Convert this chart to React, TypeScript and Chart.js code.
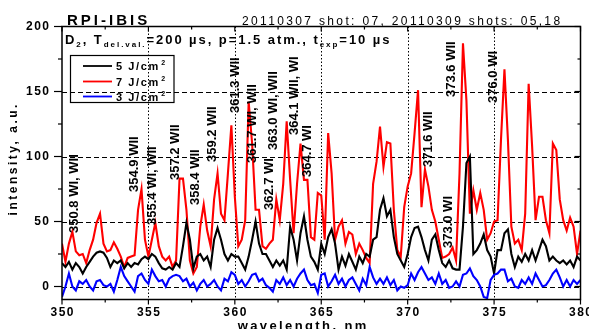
import React, { useEffect, useRef } from "react";
import { Chart, registerables } from "chart.js";

Chart.register(...registerables);

// ---------- data ----------
const X_MIN = 350;
const X_MAX = 380;
const Y_MIN = -10;
const Y_MAX = 200;

// wavelength grid (nm), 0.2 nm step
const wavelengths: number[] = Array.from({ length: 151 }, (_, i) => +(350 + 0.2 * i).toFixed(1));

// 5 J/cm2 (black)
const series5 = [
  18, 15, 19, 13, 18, 15, 10, 15, 19, 23,
  26, 27, 26, 22, 15, 20, 18, 20, 14, 18,
  15, 18, 17, 21, 23, 21, 25, 23, 18, 14,
  13, 15, 13, 18, 15, 31, 49, 36, 14, 23,
  25, 20, 23, 15, 36, 45, 36, 25, 20, 25,
  23, 23, 18, 13, 23, 36, 50, 33, 25, 25,
  20, 15, 20, 16, 20, 13, 46, 36, 20, 41,
  54, 36, 23, 19, 13, 33, 25, 38, 44, 33,
  13, 23, 16, 25, 19, 13, 23, 18, 25, 23,
  36, 38, 59, 68, 54, 59, 38, 25, 20, 15,
  25, 38, 45, 46, 38, 28, 20, 36, 40, 28,
  18, 15, 20, 14, 13, 13, 46, 95, 100, 25,
  28, 33, 40, 28, 23, 10, 28, 28, 41, 44,
  25, 15, 23, 19, 25, 20, 28, 20, 28, 36,
  31, 20, 23, 20, 18, 20, 17, 20, 15, 23,
  20,
];

// 7 J/cm2 (red)
const series7 = [
  33, 19, 33, 42, 27, 24, 25, 18, 28, 36,
  49, 56, 33, 27, 28, 34, 29, 23, 15, 22,
  23, 24, 59, 75, 36, 23, 36, 49, 31, 23,
  20, 23, 15, 20, 83, 83, 59, 20, 10, 15,
  46, 63, 43, 31, 67, 87, 56, 51, 87, 124,
  69, 31, 36, 51, 142, 110, 59, 59, 31, 29,
  33, 36, 67, 51, 79, 127, 82, 41, 79, 110,
  82, 82, 38, 36, 72, 70, 36, 118, 87, 36,
  46, 51, 33, 42, 40, 25, 33, 28, 22, 18,
  79, 96, 123, 92, 111, 110, 59, 28, 23, 61,
  77, 87, 118, 151, 61, 90, 77, 59, 50, 36,
  22, 23, 25, 30, 20, 87, 187, 143, 56, 74,
  59, 72, 59, 36, 41, 50, 51, 113, 167, 113,
  46, 33, 36, 28, 56, 156, 108, 51, 69, 69,
  51, 41, 110, 105, 67, 51, 43, 53, 46, 25,
  43,
];

// 3 J/cm2 (blue)
const series3 = [
  -8, 0, 10, 0, -3, 4, 2, 5, 0, -3,
  4, 5, 1, 0, 2, -4, 5, 15, 8, 4,
  0, -4, 8, 10, 5, 2, 13, 8, 4, 5,
  0, 6, 8, 9, 8, 4, 6, 0, 3, -3,
  2, 5, 0, 2, 5, 0, -3, 6, 4, 11,
  9, 2, 5, 0, 4, 9, 10, 4, 6, 1,
  -1, -4, 5, 2, 7, 1, 5, 0, 6, 10,
  13, 5, 1, 2, -5, 9, 10, 0, 4, 9,
  2, 6, 0, 5, 7, 2, -3, 6, 1, 15,
  7, 2, 6, 2, 7, 1, 5, -3, 0, -1,
  1, 10, 5, 11, 15, 10, 5, 7, 2, 10,
  2, 5, -1, 0, 4, 0, 9, 10, 14, 8,
  5, 0, -8, -9, 5, 9, 10, 13, 13, 4,
  6, 0, -1, 5, 2, 7, 2, 10, 5, 0,
  1, 5, 10, 13, 7, 0, 5, 0, 5, 2,
  5,
];

const seriesNames = ["5 J/cm", "7 J/cm", "3 J/cm"];
const seriesColors = ["#000000", "#ff0000", "#0000ff"];

const xTicks = [350, 355, 360, 365, 370, 375, 380];
const xMinorTicks = [352.5, 357.5, 362.5, 367.5, 372.5, 377.5];
const yTicks = [0, 50, 100, 150, 200];
const yMinorTicks = [25, 75, 125, 175];
const hGrid = [0, 50, 100, 150];
const vGrid = [355, 360, 365, 370, 375];

// line identification labels: text, anchor wavelength, anchor intensity (start of vertical text)
const lineLabels = [
  "350.8 WI, WII", "354.9 WII", "355.4 WI, WII", "357.2 WII", "358.4 WII", "359.2 WII",
  "361.3 WII", "361.7 WI, WII", "362.7 WI", "363.0 WI, WII", "364.1 WII, WI", "364.7 WI",
  "371.6 WII", "373.0 WI", "373.6 WII", "376.0 WI",
];
const labelNm = [
  350.72, 354.17, 355.21, 356.54, 357.70, 358.68,
  360.01, 361.0, 361.98, 362.21, 363.43, 364.18,
  371.18, 372.34, 372.51, 374.94,
];
const labelInt = [
  41.2, 72.7, 47.3, 81.9, 62.7, 95.8,
  133.5, 95.0, 58.8, 105, 116.5, 84.2,
  91.9, 29.6, 145.8, 141.2,
];

const FONT = "'Liberation Sans', Arial, Helvetica, sans-serif";

function drawText(
  ctx: CanvasRenderingContext2D,
  text: string,
  x: number,
  y: number,
  font: string,
  spacing: number,
  align: "left" | "center" | "right",
  baseline: CanvasTextBaseline
) {
  ctx.font = font;
  (ctx as any).letterSpacing = `${spacing}px`;
  ctx.textAlign = "left";
  ctx.textBaseline = baseline;
  const w = ctx.measureText(text).width - spacing;
  const sx = align === "left" ? x : align === "center" ? x - w / 2 : x - w;
  ctx.fillText(text, sx, y);
  (ctx as any).letterSpacing = "0px";
  return w;
}

type Seg = { t: string; size: number; dy: number };
function drawRich(ctx: CanvasRenderingContext2D, segs: Seg[], x: number, y: number, spacing: number) {
  let cx = x;
  for (const s of segs) {
    ctx.font = `bold ${s.size}px ${FONT}`;
    (ctx as any).letterSpacing = `${spacing}px`;
    ctx.textAlign = "left";
    ctx.textBaseline = "alphabetic";
    ctx.fillText(s.t, cx, y + s.dy);
    cx += ctx.measureText(s.t).width;
  }
  (ctx as any).letterSpacing = "0px";
}

const decor = {
  id: "decor",
  beforeDatasetsDraw(chart: any) {
    const { ctx, chartArea: a, scales } = chart;
    const xs = scales.x;
    const ys = scales.y;
    ctx.save();
    ctx.strokeStyle = "#000";
    ctx.lineWidth = 1;
    ctx.setLineDash([5, 3]);
    for (const v of hGrid) {
      const y = Math.round(ys.getPixelForValue(v)) + 0.5;
      ctx.beginPath();
      ctx.moveTo(a.left, y);
      ctx.lineTo(a.right, y);
      ctx.stroke();
    }
    ctx.setLineDash([1.5, 2]);
    for (const v of vGrid) {
      const x = Math.round(xs.getPixelForValue(v)) + 0.5;
      ctx.beginPath();
      ctx.moveTo(x, a.top);
      ctx.lineTo(x, a.bottom);
      ctx.stroke();
    }
    ctx.restore();
  },
  afterDatasetsDraw(chart: any) {
    const { ctx, chartArea: a, scales } = chart;
    const xs = scales.x;
    const ys = scales.y;
    ctx.save();
    ctx.fillStyle = "#000";
    ctx.strokeStyle = "#000";

    // frame
    ctx.setLineDash([]);
    ctx.lineWidth = 1.5;
    ctx.strokeRect(a.left, a.top, a.right - a.left, a.bottom - a.top);

    // ticks
    ctx.lineWidth = 1.2;
    const line = (x1: number, y1: number, x2: number, y2: number) => {
      ctx.beginPath();
      ctx.moveTo(x1, y1);
      ctx.lineTo(x2, y2);
      ctx.stroke();
    };
    for (const v of yTicks) {
      const y = ys.getPixelForValue(v);
      line(a.left - 8, y, a.left, y);
      line(a.right, y, a.right - 6, y);
    }
    for (const v of yMinorTicks) {
      const y = ys.getPixelForValue(v);
      line(a.left - 4, y, a.left, y);
      line(a.right, y, a.right - 3, y);
    }
    for (const v of xTicks) {
      const x = xs.getPixelForValue(v);
      line(x, a.bottom, x, a.bottom + 5);
      line(x, a.top, x, a.top + 5);
    }
    for (const v of xMinorTicks) {
      const x = xs.getPixelForValue(v);
      line(x, a.bottom, x, a.bottom + 3);
      line(x, a.top, x, a.top + 3);
    }

    // tick labels
    for (const v of yTicks) {
      drawText(ctx, String(v), a.left - 13, ys.getPixelForValue(v), `bold 12px ${FONT}`, 1.5, "right", "middle");
    }
    for (const v of xTicks) {
      drawText(ctx, String(v), xs.getPixelForValue(v), a.bottom + 13, `bold 12px ${FONT}`, 1.5, "center", "middle");
    }

    // axis titles
    drawText(ctx, "wavelength, nm", 302, 329.5, `bold 13px ${FONT}`, 2.4, "center", "alphabetic");
    ctx.save();
    ctx.translate(17, 160);
    ctx.rotate(-Math.PI / 2);
    drawText(ctx, "intensity, a.u.", 0, 0, `bold 12px ${FONT}`, 2.5, "center", "alphabetic");
    ctx.restore();

    // titles
    drawText(ctx, "RPI-IBIS", 67, 25, `bold 15px ${FONT}`, 3, "left", "alphabetic");
    drawText(ctx, "20110307 shot: 07, 20110309 shots: 05,18", 242, 25, `12px ${FONT}`, 2.35, "left", "alphabetic");

    drawRich(
      ctx,
      [
        { t: "D", size: 13, dy: 0 },
        { t: "2", size: 8, dy: 3 },
        { t: ", T", size: 13, dy: 0 },
        { t: "del.val.", size: 8, dy: 3 },
        { t: "=200 µs, p=1.5 atm., t", size: 13, dy: 0 },
        { t: "exp", size: 8, dy: 3 },
        { t: "=10 µs", size: 13, dy: 0 },
      ],
      65,
      44,
      1.95
    );

    // legend
    ctx.lineWidth = 1.2;
    ctx.strokeRect(70.5, 55.5, 103.5, 47);
    const rowsY = [66, 81.5, 96.5];
    seriesNames.forEach((name, i) => {
      ctx.strokeStyle = seriesColors[i];
      ctx.lineWidth = 1.8;
      line(83, rowsY[i], 112, rowsY[i]);
      ctx.fillStyle = "#000";
      const w = drawText(ctx, name, 116, rowsY[i] + 4, `bold 11px ${FONT}`, 1.6, "left", "alphabetic");
      drawText(ctx, "2", 116 + w + 3, rowsY[i] - 1, `bold 7px ${FONT}`, 0, "left", "alphabetic");
    });
    ctx.strokeStyle = "#000";

    // line identification labels
    ctx.fillStyle = "#000";
    lineLabels.forEach((txt, i) => {
      const px = xs.getPixelForValue(labelNm[i]);
      const py = ys.getPixelForValue(labelInt[i]);
      ctx.save();
      ctx.translate(px, py);
      ctx.rotate(-Math.PI / 2);
      drawText(ctx, txt, 0, 0, `bold 13px ${FONT}`, 0, "left", "middle");
      ctx.restore();
    });

    ctx.restore();
  },
};

export default function App() {
  const ref = useRef<HTMLCanvasElement | null>(null);
  useEffect(() => {
    document.body.style.margin = "0";
    const canvas = ref.current;
    if (!canvas) return;
    const mk = (vals: number[]) => wavelengths.map((x, i) => ({ x, y: vals[i] }));
    const chart = new Chart(canvas, {
      type: "line",
      data: {
        datasets: [
          { label: "5 J/cm²", data: mk(series5), borderColor: seriesColors[0], borderWidth: 2.1, pointRadius: 0, order: 1 },
          { label: "7 J/cm²", data: mk(series7), borderColor: seriesColors[1], borderWidth: 2.1, pointRadius: 0, order: 2 },
          { label: "3 J/cm²", data: mk(series3), borderColor: seriesColors[2], borderWidth: 2.1, pointRadius: 0, order: 0 },
        ],
      },
      options: {
        animation: false,
        responsive: false,
        devicePixelRatio: 1,
        layout: { padding: { left: 62, top: 26.5, right: 8.5, bottom: 29.5 } },
        elements: { line: { tension: 0 } },
        scales: {
          x: { type: "linear", min: X_MIN, max: X_MAX, display: false },
          y: { type: "linear", min: Y_MIN, max: Y_MAX, display: false },
        },
        plugins: { legend: { display: false }, tooltip: { enabled: false } },
      },
      plugins: [decor],
    } as any);
    return () => chart.destroy();
  }, []);
  return (
    <canvas ref={ref} width={589} height={329} style={{ display: "block", width: 589, height: 329 }} />
  );
}
